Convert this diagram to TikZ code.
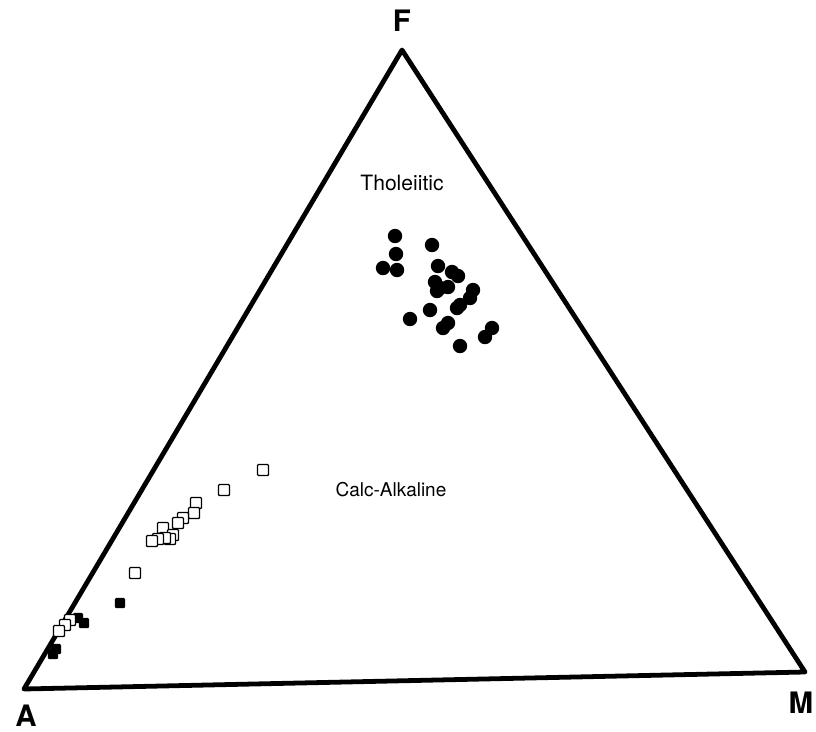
\documentclass[tikz,border=0pt]{standalone}
\usepackage{fontspec}
\setmainfont{TeX Gyre Heros}
\newlength{\dotsize}
\setlength{\dotsize}{0.36cm}
\newlength{\boxsize}
\setlength{\boxsize}{0.27cm}
\tikzset{
  dot/.style={fill=black,circle,inner sep=0pt,minimum size=\dotsize},
  sq/.style={draw=black,fill=white,rectangle,rounded corners=0.5pt,line width=0.9pt,inner sep=0pt,minimum size=\boxsize},
  sqf/.style={sq,fill=black,minimum size=0.22cm},
  corner/.style={font=\bfseries\fontsize{21}{21}\selectfont},
  field/.style={font=\fontsize{14}{14}\selectfont}
}
\begin{document}
\begin{tikzpicture}[x=0.025cm,y=-0.025cm]
            \useasboundingbox (0,0) rectangle (816,731);
            \coordinate (A) at (24,689);
            \coordinate (F) at (402,50);
            \coordinate (M) at (805,672);
            \draw[line width=3.4pt,line join=round](A)--(F)--(M)--cycle;
            \node[corner] (labF) at (402,21) {F};
            \node[corner] (labA) at (26,716) {A};
            \node[corner] (labM) at (801,703) {M};
            \node[field,font=\fontsize{15}{15}\selectfont] (thol) at (402,183) {Tholeiitic};
            \node[field,font=\fontsize{13.5}{13.5}\selectfont] (calc) at (391,490) {Calc-Alkaline};
            % tholeiitic suite
            \node[dot] (c1) at (395,236){};
            \node[dot] (c2) at (432,245){};
            \node[dot] (c3) at (396,254){};
            \node[dot] (c4) at (383,268){};
            \node[dot] (c5) at (397,270){};
            \node[dot] (c6) at (438,266){};
            \node[dot] (c7) at (452,272){};
            \node[dot] (c8) at (458,276){};
            \node[dot] (c9) at (435,282){};
            \node[dot] (c10) at (440,288){};
            \node[dot] (c11) at (437,291){};
            \node[dot] (c12) at (448,287){};
            \node[dot] (c13) at (473,290){};
            \node[dot] (c14) at (470,298){};
            \node[dot] (c15) at (460,305){};
            \node[dot] (c16) at (457,308){};
            \node[dot] (c17) at (430,310){};
            \node[dot] (c18) at (410,319){};
            \node[dot] (c19) at (448,323){};
            \node[dot] (c20) at (443,328){};
            \node[dot] (c21) at (492,328){};
            \node[dot] (c22) at (485,337){};
            \node[dot] (c23) at (460,346){};
            % calc-alkaline suite
            \node[sq] (s1) at (263,470){};
            \node[sq] (s2) at (224,490){};
            \node[sq] (s3) at (196,503){};
            \node[sq] (s4) at (194,513){};
            \node[sq] (s5) at (183,518){};
            \node[sq] (s6) at (178,523){};
            \node[sq] (s7) at (163,528){};
            \node[sq] (s8) at (173,535){};
            \node[sq] (s9) at (170,539){};
            \node[sq] (s10) at (165,538){};
            \node[sq] (s11) at (158,539){};
            \node[sq] (s12) at (152,541){};
            \node[sq] (s13) at (135,573){};
            \node[sqf] (s14) at (120,603){};
            \node[sqf] (s15) at (78,618){};
            \node[sqf] (s16) at (84,623){};
            \node[sq] (s17) at (70,620){};
            \node[sq] (s18) at (65,625){};
            \node[sq] (s19) at (59,631){};
            \node[sqf] (s20) at (56,649){};
            \node[sqf] (s21) at (53,654){};
\end{tikzpicture}
\end{document}
